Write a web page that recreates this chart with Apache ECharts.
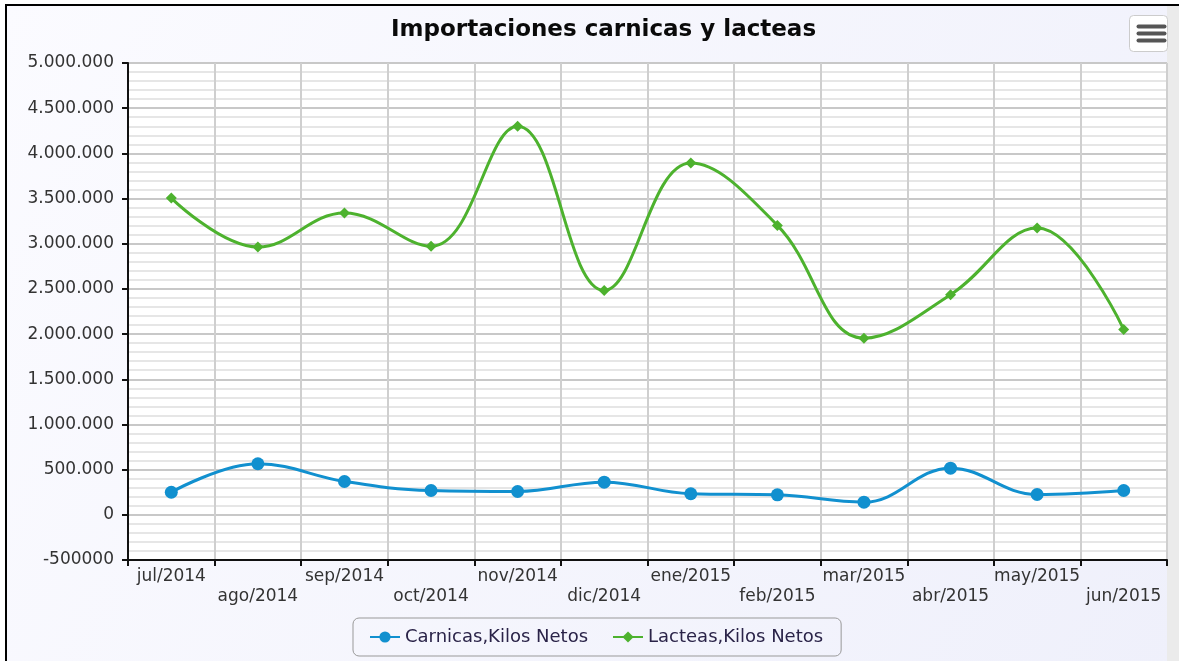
<!DOCTYPE html>
<html>
<head>
<meta charset="utf-8">
<title>Importaciones carnicas y lacteas</title>
<script src="https://cdn.jsdelivr.net/npm/echarts@6/dist/echarts.min.js"></script>
<style>
  html, body { margin: 0; padding: 0; background: #fff; }
  #chart { width: 1179px; height: 661px; }
</style>
</head>
<body>
<div id="chart"></div>
<script>
// meses (eje x)
var meses = ['jul/2014', 'ago/2014', 'sep/2014', 'oct/2014', 'nov/2014', 'dic/2014',
             'ene/2015', 'feb/2015', 'mar/2015', 'abr/2015', 'may/2015', 'jun/2015'];

// kilos netos por mes
var carnicas = [250000, 565000, 369000, 269000, 258000, 361000,
                233000, 221000, 140000, 516000, 225000, 269000];
var lacteas = [3505000, 2963000, 3339000, 2971000, 4299000, 2483000,
               3893000, 3203000, 1955000, 2436000, 3173000, 2052000];

var nombres = ['Carnicas,Kilos Netos', 'Lacteas,Kilos Netos'];

// eje y
var yMin = -500000, yMax = 5000000, yPaso = 500000;

var fuente = 'DejaVu Sans';

function formatoMiles(v) {
  if (v < 0) return String(v);   // el original muestra -500000 sin puntos
  return String(v).replace(/\B(?=(\d{3})+(?!\d))/g, '.');
}

var myChart = echarts.init(document.getElementById('chart'));

var option = {
  backgroundColor: {
    type: 'linear', x: 0, y: 0, x2: 1, y2: 1,
    colorStops: [{ offset: 0, color: '#fbfbff' }, { offset: 1, color: '#eff0fb' }]
  },
  animation: false,
  title: {
    text: 'Importaciones carnicas y lacteas',
    left: 386,
    top: 14,
    textStyle: { fontFamily: fuente, fontSize: 23, fontWeight: 'bold', color: '#0a0a0a' }
  },
  legend: {
    data: nombres,
    left: 353,
    bottom: 5,
    padding: [10, 18, 10, 16],
    itemGap: 24,
    itemWidth: 30,
    itemHeight: 14,
    borderColor: '#999',
    borderWidth: 1,
    borderRadius: 6,
    textStyle: { fontFamily: fuente, fontSize: 18, color: '#2a2348' }
  },
  grid: {
    left: 128, right: 12, top: 63, bottom: 101,
    outerBoundsMode: 'none',
    show: true,
    backgroundColor: '#fff',
    borderWidth: 0
  },
  xAxis: {
    type: 'category',
    data: meses,
    boundaryGap: true,
    axisLine: { onZero: false, lineStyle: { color: '#111', width: 2 } },
    axisTick: { show: true, length: 6, alignWithLabel: false, lineStyle: { color: '#111', width: 2 } },
    axisLabel: {
      interval: 0,
      margin: 7,
      lineHeight: 20,
      fontFamily: fuente,
      fontSize: 17,
      color: '#333',
      formatter: function (v, i) { return i % 2 ? '\n' + v : v; }
    },
    splitLine: { show: true, interval: 0, lineStyle: { color: '#cfcfcf', width: 2 } }
  },
  yAxis: {
    type: 'value',
    min: yMin,
    max: yMax,
    interval: yPaso,
    axisLine: { show: true, lineStyle: { color: '#111', width: 2 } },
    axisTick: { show: true, length: 6, lineStyle: { color: '#111', width: 2 } },
    axisLabel: {
      margin: 14,
      fontFamily: fuente,
      fontSize: 17,
      color: '#333',
      formatter: formatoMiles
    },
    splitLine: { lineStyle: { color: '#c8c8c8', width: 2 } },
    minorTick: { show: false, splitNumber: 5 },
    minorSplitLine: { show: true, lineStyle: { color: '#e6e6e6', width: 2 } }
  },
  series: [
    {
      name: nombres[0],
      type: 'line',
      smooth: 0.4,
      data: carnicas,
      symbol: 'circle',
      symbolSize: 13,
      color: '#1190cf',
      lineStyle: { width: 3 }
    },
    {
      name: nombres[1],
      type: 'line',
      smooth: 0.4,
      data: lacteas,
      symbol: 'diamond',
      symbolSize: 11,
      color: '#4db22e',
      lineStyle: { width: 3 }
    }
  ],
  graphic: [
    // marco del contenedor
    { type: 'rect', shape: { x: 5, y: 4, width: 1174, height: 2 }, style: { fill: '#000' }, silent: true },
    { type: 'rect', shape: { x: 5, y: 4, width: 2, height: 657 }, style: { fill: '#000' }, silent: true },
    { type: 'rect', shape: { x: 1167, y: 6, width: 12, height: 655 }, style: { fill: '#ebebeb' }, silent: true },
    { type: 'rect', shape: { x: 0, y: 0, width: 5, height: 661 }, style: { fill: '#fff' }, silent: true },
    { type: 'rect', shape: { x: 0, y: 0, width: 1179, height: 4 }, style: { fill: '#fff' }, silent: true },
    // boton de menu
    {
      type: 'group', left: 1129, top: 15, silent: true,
      children: [
        { type: 'rect', shape: { x: 0, y: 0, width: 38, height: 36, r: 4 }, style: { fill: '#fff', stroke: '#ccc', lineWidth: 1 } },
        { type: 'rect', shape: { x: 7, y: 9, width: 30, height: 4, r: 2 }, style: { fill: '#555' } },
        { type: 'rect', shape: { x: 7, y: 16, width: 30, height: 4, r: 2 }, style: { fill: '#555' } },
        { type: 'rect', shape: { x: 7, y: 23, width: 30, height: 4, r: 2 }, style: { fill: '#555' } }
      ]
    }
  ]
};

myChart.setOption(option);
</script>
</body>
</html>
